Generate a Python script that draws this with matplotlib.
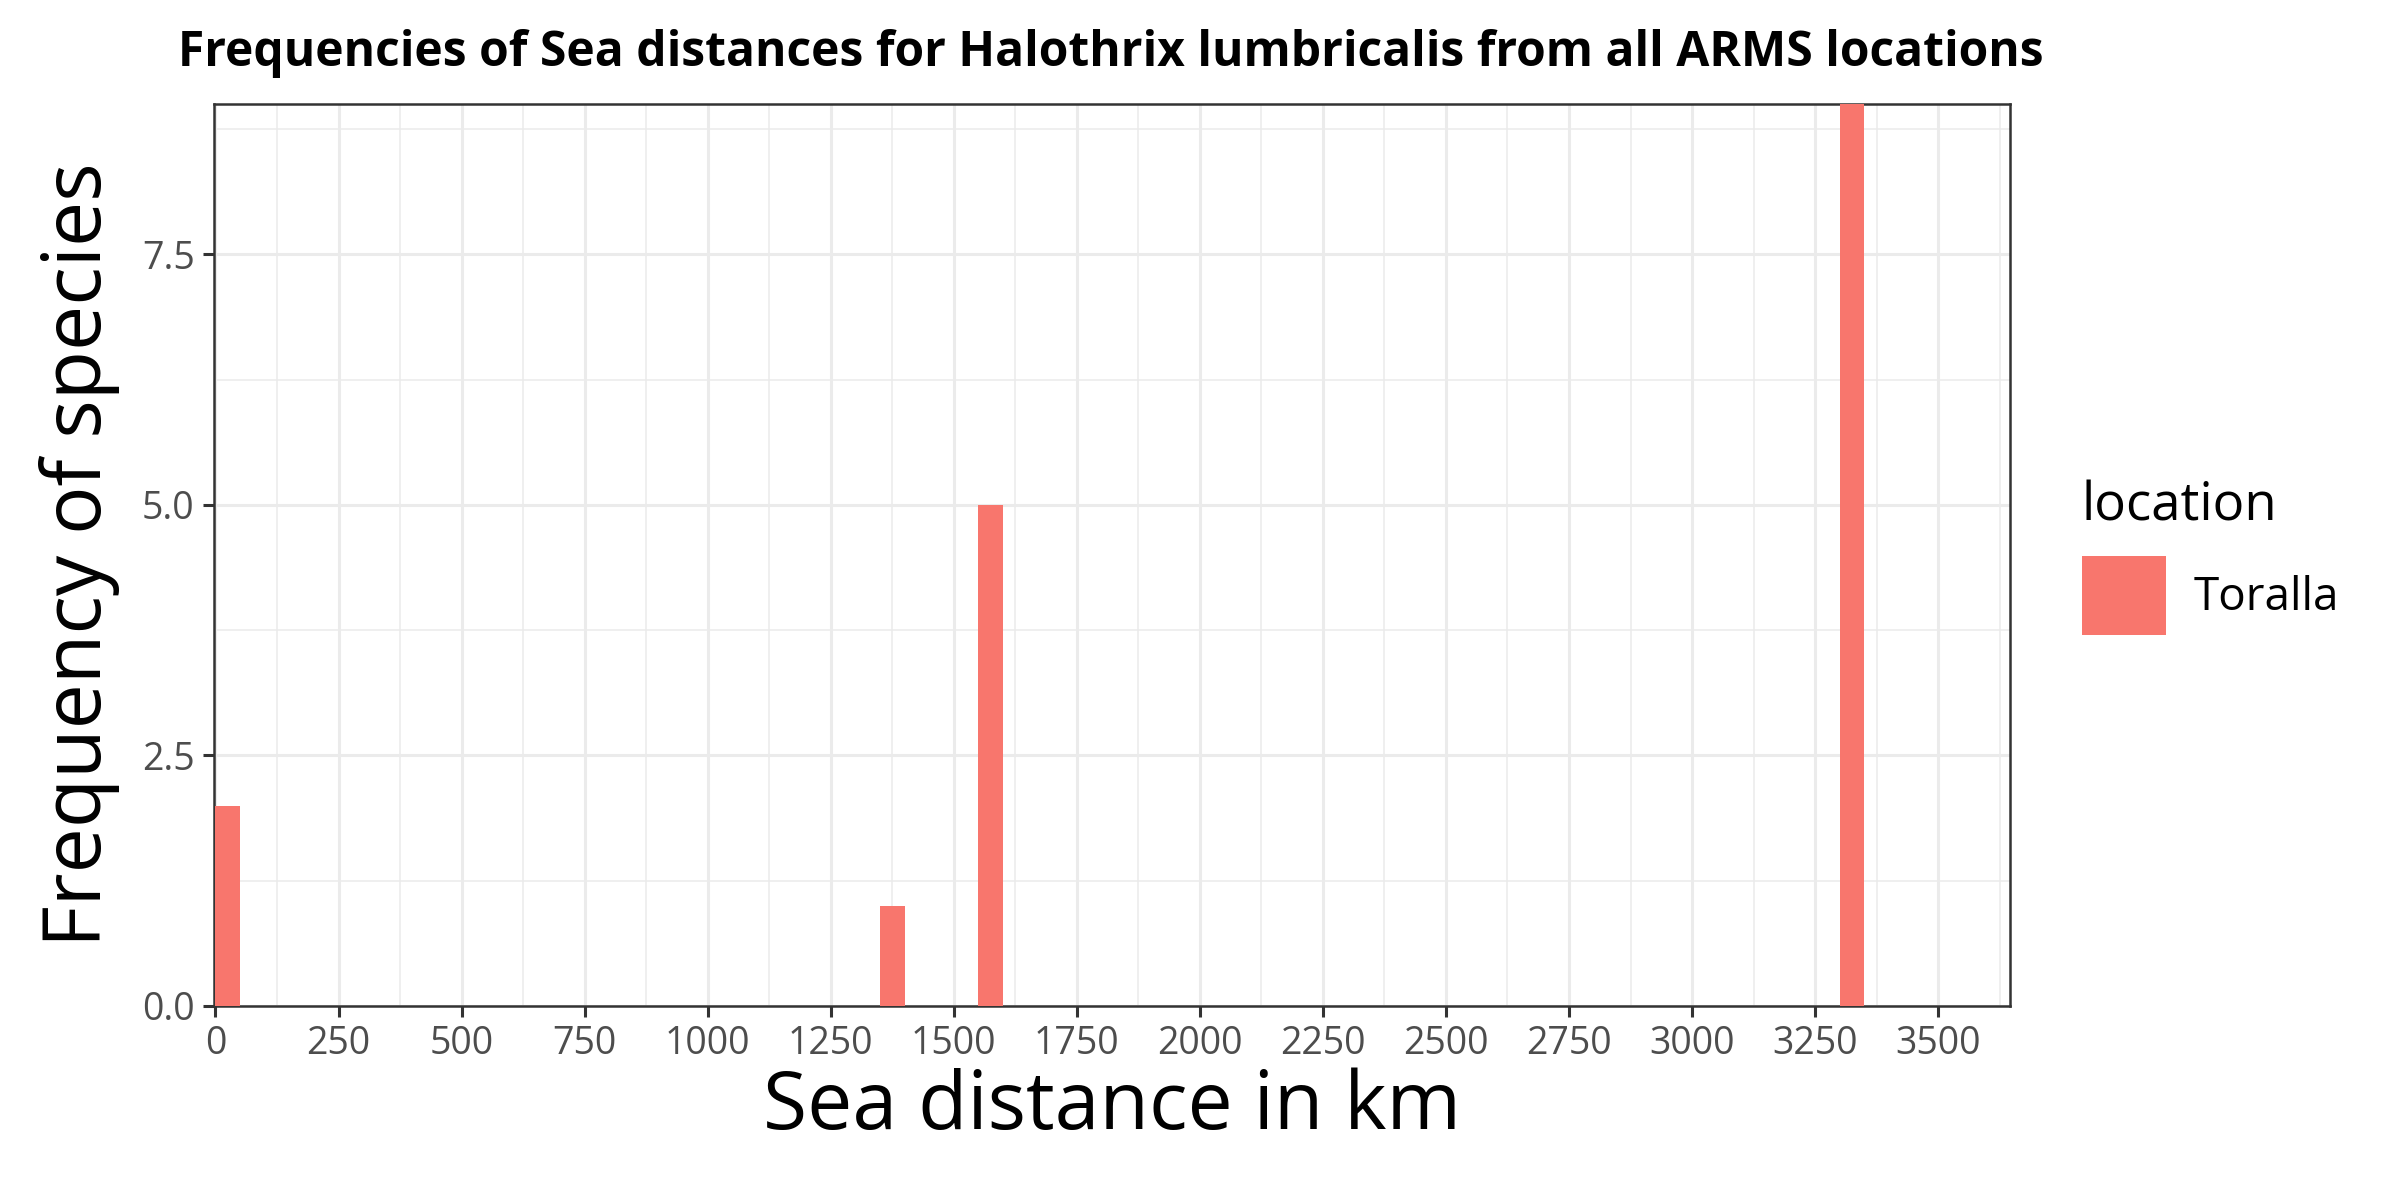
import matplotlib
matplotlib.use("Agg")
import matplotlib.pyplot as plt
from matplotlib.patches import Patch
import numpy as np

# Data
bin_left = [0, 1350, 1550, 3300]
counts = [2, 1, 5, 9]
bin_width = 50
location = "Toralla"
x_ticks = [0, 250, 500, 750, 1000, 1250, 1500, 1750, 2000, 2250, 2500, 2750, 3000, 3250, 3500]
y_ticks = [0.0, 2.5, 5.0, 7.5]
y_tick_labels = ["0.0", "2.5", "5.0", "7.5"]

title = "Frequencies of Sea distances for Halothrix lumbricalis from all ARMS locations"
xlabel = "Sea distance in km"
ylabel = "Frequency of species"

plt.rcParams['font.family'] = ['Open Sans', 'DejaVu Sans']
fill = "#F8766D"

fig = plt.figure(figsize=(12, 6), dpi=200)
ax = fig.add_axes([214/2400, 1-1006/1200, (2010-214)/2400, (1006-104)/1200])

ax.bar(bin_left, counts, width=bin_width, align='edge', color=fill, linewidth=0, zorder=3)

ax.set_xlim(-3, 3646)
ax.set_ylim(0, 9)
ax.set_xticks(x_ticks)
ax.set_xticklabels([str(t) for t in x_ticks])
ax.set_yticks(y_ticks)
ax.set_yticklabels(y_tick_labels)
ax.set_xticks([t + 125 for t in x_ticks], minor=True)
ax.set_yticks([1.25, 3.75, 6.25, 8.75], minor=True)

ax.grid(which='major', color='#EBEBEB', linewidth=1.1, zorder=0)
ax.grid(which='minor', color='#EBEBEB', linewidth=0.55, zorder=0)
ax.set_axisbelow(True)
ax.tick_params(which='minor', length=0)
ax.tick_params(which='major', length=4, width=1.1, color='#333333', labelsize=13.5, labelcolor='#4D4D4D', pad=3)
for s in ax.spines.values():
    s.set_color('#333333')
    s.set_linewidth(0.9)

fig.text(0.463, 0.955, title, ha='center', va='center', fontsize=17.3, fontweight='bold')
fig.text(1112/2400, 1-1108/1200, xlabel, ha='center', va='center', fontsize=29)
fig.text(80/2400, 1-(1006+104)/2/1200, ylabel, ha='center', va='center', fontsize=29, rotation=90)

handle = Patch(facecolor=fill, edgecolor='none')
leg = fig.legend([handle], [location], title="location", loc='upper left',
                 bbox_to_anchor=(2082/2400, 1-480/1200), frameon=False,
                 fontsize=16.5, title_fontsize=19, handlelength=1.83, handleheight=2.3,
                 handletextpad=0.6, borderpad=0, borderaxespad=0, labelspacing=0.3)
leg._legend_box.align = "left"
leg._legend_box.sep = 8

fig.savefig("out.png", dpi=200)
